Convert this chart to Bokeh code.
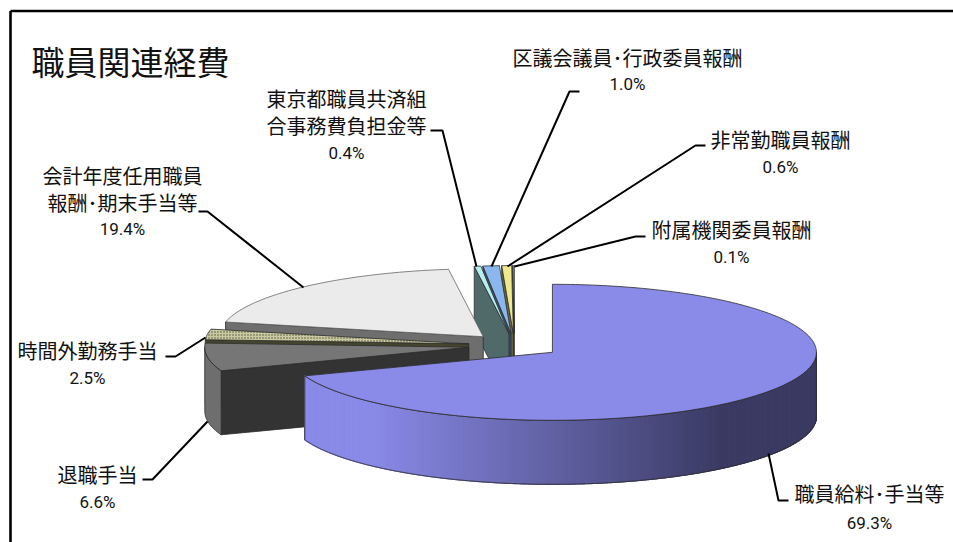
import math

from bokeh.core.properties import value
from bokeh.embed import file_html
from bokeh.models import Range1d
from bokeh.plotting import figure
from bokeh.resources import INLINE

# Expense shares, clockwise from twelve o'clock
categories = [
    "職員給料･手当等", "退職手当", "時間外勤務手当",
    "会計年度任用職員\n報酬･期末手当等", "東京都職員共済組\n合事務費負担金等",
    "区議会議員･行政委員報酬", "非常勤職員報酬", "附属機関委員報酬",
]
shares = [69.3, 6.6, 2.5, 19.4, 0.4, 1.0, 0.6, 0.1]
chart_title = "職員関連経費"

top_colors = ["#8a8ae8", "#767676", "#c9c9a2", "#ebebeb", "#b4eeee", "#8ab8ee", "#eee98a", "#8a8ae8"]
face_colors = ["#3b3b64", "#333333", "#45452f", "#6e6e6e", "#506a6a", "#34506c", "#6a6740", "#2a2a40"]
rim_colors = ["#3b3b64", "#6e6e6e", "#45452f", "#6e6e6e", "#506a6a", "#34506c", "#6a6740", "#2a2a40"]

# Projection of the tilted disc, in page pixels
CX, CY = 514.0, 345.0
RX, RY = 264.0, 68.0
DEPTH = 64.0
EXPLODE = 0.175
EDGE = "#2c2c2c"
JP = "Noto Sans CJK JP"
NUM = "Roboto"

p = figure(width=953, height=542, output_backend="svg", toolbar_location=None,
           x_range=Range1d(0, 953), y_range=Range1d(542, 0),
           min_border=0, outline_line_color=None, background_fill_color="white")
p.axis.visible = False
p.grid.visible = False


def on_rim(ax, ay, deg):
    t = math.radians(deg)
    return ax + RX * math.sin(t), ay - RY * math.cos(t)


def arc(ax, ay, a0, a1, step=1.0):
    n = max(2, int(abs(a1 - a0) / step) + 1)
    return [on_rim(ax, ay, a0 + (a1 - a0) * i / n) for i in range(n + 1)]


def poly(points, fill, line=EDGE, width=0.8, **kw):
    xs, ys = zip(*points)
    p.patch(list(xs), list(ys), fill_color=fill, line_color=line, line_width=width, **kw)


def lerp_hex(c0, c1, f):
    a = [int(c0[i:i + 2], 16) for i in (1, 3, 5)]
    b = [int(c1[i:i + 2], 16) for i in (1, 3, 5)]
    return "#%02x%02x%02x" % tuple(round(u + (v - u) * f) for u, v in zip(a, b))


total = sum(shares)
spans = []
running = 0.0
for s in shares:
    spans.append((running / total * 360, (running + s) / total * 360))
    running += s

# Back slices first, the large front slice last
for i in reversed(range(len(shares))):
    a0, a1 = spans[i]
    mid = math.radians((a0 + a1) / 2)
    ax = CX + EXPLODE * RX * math.sin(mid)
    ay = CY - EXPLODE * RY * math.cos(mid)
    rim = arc(ax, ay, a0, a1)

    # Cut face along the starting radius, seen when it lies on the left half
    if 180 < a0 < 360:
        ox, oy = rim[0]
        poly([(ox, oy), (ax, ay), (ax, ay + DEPTH), (ox, oy + DEPTH)], face_colors[i])

    # Curved outer wall on the near half of the disc
    w0, w1 = max(a0, 90), min(a1, 270)
    if w1 > w0:
        if i == 0:
            # Shaded strips for the large slice, dark towards the right
            wall = arc(ax, ay, w0, w1, step=0.2)
            xs, ys, cs = [], [], []
            for (x0, y0), (x1, y1) in zip(wall[:-1], wall[1:]):
                xs.append([x0, x1, x1, x0])
                ys.append([y0, y1, y1 + DEPTH, y0 + DEPTH])
                f = min(1, max(0, (720 - (x0 + x1) / 2) / 350))
                cs.append(lerp_hex(rim_colors[i], top_colors[i], f))
            p.patches(xs, ys, fill_color=cs, line_color=cs, line_width=1.2)
            outline = wall + [(x, y + DEPTH) for x, y in reversed(wall)]
            xs0, ys0 = zip(*(outline + outline[:1]))
            p.line(list(xs0), list(ys0), line_color=EDGE, line_width=0.9)
        else:
            wall = arc(ax, ay, w0, w1)
            poly(wall + [(x, y + DEPTH) for x, y in reversed(wall)], rim_colors[i])

    # Upper surface
    top = [(ax, ay)] + rim
    if i == 2:
        poly(top, top_colors[i], hatch_pattern="dot", hatch_color="#4f4f35", hatch_scale=3, hatch_weight=1)
    else:
        poly(top, top_colors[i], line="#666666" if i == 3 else EDGE)

# Chart frame, running past the right and bottom of the page
p.line([10, 10], [545, 10.5], line_color="black", line_width=2.6)
p.line([10, 956], [10.5, 10.5], line_color="black", line_width=2.6)

# Leader lines
leaders = [
    ([788, 778, 768], [500, 500, 453]),
    ([142, 152, 207], [479, 479, 421]),
    ([165, 175, 205], [356, 356, 337]),
    ([198, 207, 303], [211, 211, 287]),
    ([430, 442, 476], [130, 130, 266]),
    ([579, 569, 491], [91, 91, 266]),
    ([705, 695, 507], [145, 145, 266]),
    ([645, 635, 514], [236, 236, 266]),
]
for xs, ys in leaders:
    p.line(xs, ys, line_color="black", line_width=2)

# Label anchor: centre x, then the y of each text line
anchors = [
    (869, [493, 522]), (97, [474, 501]), (87, [350, 377]), (122, [175, 202, 228]),
    (346, [98, 125, 152]), (627, [57, 83]), (780, [139, 166]), (731, [229, 256]),
]
for name, s, (x, ys) in zip(categories, shares, anchors):
    rows = name.split("\n")
    for row, y in zip(rows, ys):
        p.text([x], [y], text=[row], text_font=value(JP), text_font_size="20px",
               text_align="center", text_baseline="middle", text_color="#111111")
    p.text([x], [ys[-1]], text=[f"{s:.1f}%"], text_font=value(NUM), text_font_size="17px",
           text_align="center", text_baseline="middle", text_color="#111111")

p.text([130], [60], text=[chart_title], text_font=value(JP), text_font_size="33px",
       text_align="center", text_baseline="middle", text_color="#111111")

open("out.html", "w").write(file_html(p, INLINE))
